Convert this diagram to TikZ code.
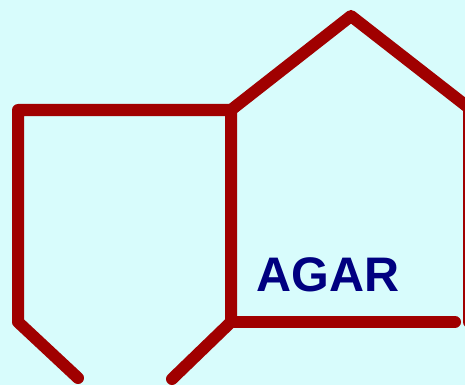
\documentclass[tikz,border=0pt]{standalone}
\usepackage{fontspec}
\setmainfont{Liberation Sans}
\definecolor{bgc}{RGB}{216,252,252}
\definecolor{wall}{RGB}{160,0,0}
\definecolor{navy}{RGB}{0,0,128}
\begin{document}
\begin{tikzpicture}[x=1pt,y=-1pt,
  wallline/.style={draw=wall,line width=12pt,line cap=round,line join=round}]
\fill[bgc] (0,0) rectangle (465,385);
\useasboundingbox (0,0) rectangle (465,385);
\coordinate (lb) at (78,378);
\coordinate (lk) at (18,322);
\coordinate (lt) at (18,110);
\coordinate (mt) at (231,110);
\coordinate (mb) at (231,322);
\coordinate (mdl) at (172,379);
\coordinate (peak) at (351,16);
\coordinate (rt) at (469,108);
\coordinate (rb) at (469,322);
\coordinate (be) at (455,322);
\draw[wallline] (lb) -- (lk) -- (lt) -- (mt) -- (mb) -- (mdl);
\draw[wallline] (mt) -- (peak) -- (rt) -- (rb);
\draw[wallline] (mb) -- (be);
\node[text=navy,font=\fontsize{48.5}{50}\selectfont\bfseries,inner sep=0pt] (agar) at (328,275) {AGAR};
\end{tikzpicture}
\end{document}
